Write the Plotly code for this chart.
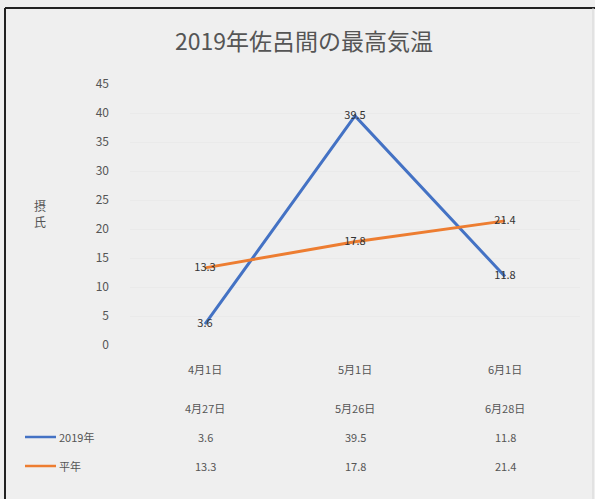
import plotly.graph_objects as go

title = "2019年佐呂間の最高気温"
categories = ["4月1日", "5月1日", "6月1日"]
dates_2019 = ["4月27日", "5月26日", "6月28日"]
series_names = ["2019年", "平年"]
values_2019 = [3.6, 39.5, 11.8]
values_normal = [13.3, 17.8, 21.4]
y_ticks = [0, 5, 10, 15, 20, 25, 30, 35, 40, 45]
colors = ["#4472C4", "#ED7D31"]

W, H = 595, 499
L, R, T, B = 130, 15, 84, 154
PW = W - L - R
PH = H - T - B
FONT = "Noto Sans CJK JP"
TXT = "#555555"


def px(x):
    return (x - L) / PW


def py(y):
    return (H - B - y) / PH


xs = list(range(len(categories)))
fig = go.Figure()
for name, vals, col in zip(series_names, [values_2019, values_normal], colors):
    fig.add_trace(go.Scatter(
        x=xs, y=vals, name=name, mode="lines+text",
        line=dict(color=col, width=3),
        text=[f"{v}" for v in vals], textposition="middle center",
        textfont=dict(family=FONT, size=11, color="#333333"),
        showlegend=False, cliponaxis=False,
    ))

ann = []
rows = [(categories, 369), (dates_2019, 408),
        ([f"{v}" for v in values_2019], 437), ([f"{v}" for v in values_normal], 466)]
for texts, ypix in rows:
    for i, t in enumerate(texts):
        ann.append(dict(x=i, y=py(ypix), xref="x", yref="paper", text=t,
                        showarrow=False, font=dict(family=FONT, size=11, color=TXT),
                        xanchor="center", yanchor="middle"))
shapes = []
for name, col, ypix in zip(series_names, colors, [437, 466]):
    shapes.append(dict(type="line", xref="paper", yref="paper",
                       x0=px(25), x1=px(56), y0=py(ypix), y1=py(ypix),
                       line=dict(color=col, width=2.5)))
    ann.append(dict(x=px(57), y=py(ypix), xref="paper", yref="paper", text=name,
                    showarrow=False, font=dict(family=FONT, size=11, color=TXT),
                    xanchor="left", yanchor="middle"))
ann.append(dict(x=px(40), y=py(213), xref="paper", yref="paper", text="摂<br>氏",
                showarrow=False, font=dict(family=FONT, size=12, color=TXT),
                xanchor="center", yanchor="middle"))
shapes.append(dict(type="line", xref="paper", yref="paper",
                   x0=px(5), x1=px(5), y0=py(8), y1=py(499),
                   line=dict(color="#222222", width=2)))
shapes.append(dict(type="line", xref="paper", yref="paper",
                   x0=px(5), x1=px(595), y0=py(8), y1=py(8),
                   line=dict(color="#222222", width=2)))
shapes.append(dict(type="line", xref="paper", yref="paper",
                   x0=px(593), x1=px(593), y0=py(8), y1=py(499),
                   line=dict(color="#d5d5d5", width=1)))

fig.update_layout(
    width=W, height=H,
    margin=dict(l=L, r=R, t=T, b=B),
    paper_bgcolor="#efefef", plot_bgcolor="#efefef",
    title=dict(text=title, x=304 / W, xanchor="center", y=1 - 42 / H, yanchor="middle",
               font=dict(family=FONT, size=23, color=TXT)),
    xaxis=dict(range=[-0.5, 2.5], showticklabels=False, showgrid=False,
               zeroline=False, showline=False, fixedrange=True),
    yaxis=dict(range=[0, 45], tickvals=y_ticks, showgrid=True, gridcolor="#eaeaea",
               zeroline=False, showline=False, ticks="",
               tickfont=dict(family=FONT, size=12, color=TXT),
               ticklabelstandoff=20),
    annotations=ann, shapes=shapes,
    font=dict(family=FONT),
)

fig.write_html("out.html")
